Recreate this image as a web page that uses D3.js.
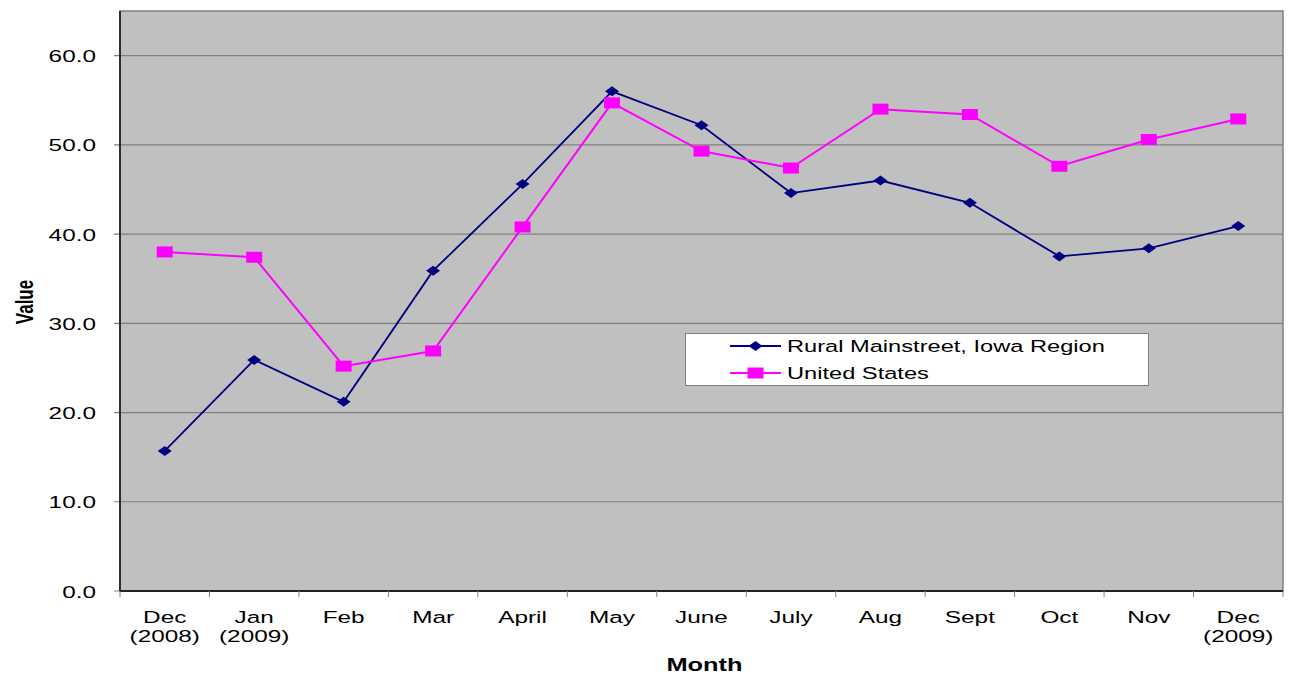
<!DOCTYPE html>
<html>
<head>
<meta charset="utf-8">
<script src="https://cdn.jsdelivr.net/npm/d3@7"></script>
<style>
  body { margin: 0; background: #ffffff; }
  svg { display: block; }
  text { font-family: "Liberation Sans", Arial, sans-serif; fill: #000; }
</style>
</head>
<body>
<div id="chart"></div>
<script>
// data
var months = [["Dec", "(2008)"], ["Jan", "(2009)"], ["Feb"], ["Mar"], ["April"], ["May"],
  ["June"], ["July"], ["Aug"], ["Sept"], ["Oct"], ["Nov"], ["Dec", "(2009)"]];
var rural = [15.7, 25.9, 21.2, 35.9, 45.6, 56.0, 52.2, 44.6, 46.0, 43.5, 37.5, 38.4, 40.9];
var us = [38.0, 37.4, 25.2, 26.9, 40.8, 54.7, 49.3, 47.4, 54.0, 53.4, 47.6, 50.6, 52.9];
var yTicks = [0, 10, 20, 30, 40, 50, 60];
var seriesNames = ["Rural Mainstreet, Iowa Region", "United States"];

var W = 1291, H = 677;
var margin = {left: 120, top: 11, right: 8, bottom: 86};
var width = W - margin.left - margin.right,
    height = H - margin.top - margin.bottom;
var sx = 1.45; // text is drawn wide in the original

var svg = d3.select("#chart").append("svg")
    .attr("width", W)
    .attr("height", H);

var x = d3.scaleBand()
    .domain(d3.range(months.length))
    .range([0, width]);
var y = d3.scaleLinear()
    .domain([0, 65])
    .range([height, 0]);

var g = svg.append("g")
    .attr("transform", "translate(" + margin.left + "," + margin.top + ")");

// plot background
g.append("rect")
    .attr("width", width)
    .attr("height", height)
    .attr("fill", "#c0c0c0")
    .attr("stroke", "#808080")
    .attr("stroke-width", 1.5);

// gridlines + left ticks
g.selectAll(".grid")
    .data(yTicks.filter(function(d) { return d > 0; }))
    .enter().append("line")
    .attr("x1", -6)
    .attr("x2", width)
    .attr("y1", function(d) { return y(d); })
    .attr("y2", function(d) { return y(d); })
    .attr("stroke", "#808080")
    .attr("stroke-width", 1.2);

g.append("line")
    .attr("x1", -6).attr("x2", 0)
    .attr("y1", y(0)).attr("y2", y(0))
    .attr("stroke", "#808080");

// axis lines
g.append("line")
    .attr("x1", 0).attr("x2", 0)
    .attr("y1", 0).attr("y2", height)
    .attr("stroke", "#222").attr("stroke-width", 1.8);
g.append("line")
    .attr("x1", 0).attr("x2", width)
    .attr("y1", height).attr("y2", height)
    .attr("stroke", "#222").attr("stroke-width", 1.8);

// x ticks at category boundaries
g.selectAll(".xtick")
    .data(d3.range(months.length + 1))
    .enter().append("line")
    .attr("x1", function(i) { return i * x.bandwidth(); })
    .attr("x2", function(i) { return i * x.bandwidth(); })
    .attr("y1", height)
    .attr("y2", height + 6)
    .attr("stroke", "#808080");

function wideText(sel, px, py, str, anchor) {
  return sel.append("text")
      .attr("transform", "translate(" + px + "," + py + ") scale(" + sx + ",1)")
      .attr("text-anchor", anchor || "middle")
      .text(str);
}

// y tick labels
yTicks.forEach(function(d) {
  wideText(g, -24, y(d) + 6.5, d3.format(".1f")(d), "end")
      .style("font-size", "16.8px");
});

// x tick labels
months.forEach(function(lines, i) {
  var cx = x(i) + x.bandwidth() / 2;
  lines.forEach(function(s, k) {
    wideText(g, cx, height + 31.5 + k * 19, s)
        .style("font-size", "16.8px");
  });
});

// axis titles
wideText(svg, margin.left + width / 2 + 3, 670.5, "Month")
    .style("font-size", "17.5px")
    .style("font-weight", "bold");

svg.append("text")
    .attr("transform", "translate(33,302) scale(" + sx + ",1) rotate(-90)")
    .attr("text-anchor", "middle")
    .style("font-size", "17px")
    .style("font-weight", "bold")
    .text("Value");

// lines
var line = d3.line()
    .x(function(d, i) { return x(i) + x.bandwidth() / 2; })
    .y(function(d) { return y(d); });

var diamond = "M0,-5L7,0L0,5L-7,0Z";
var square = "M-8,-5.5H8V5.5H-8Z";
var series = [
  {name: seriesNames[0], values: rural, color: "#000080", marker: diamond, lw: 1.8},
  {name: seriesNames[1], values: us, color: "#ff00ff", marker: square, lw: 2}
];

series.forEach(function(s) {
  g.append("path")
      .datum(s.values)
      .attr("d", line)
      .attr("fill", "none")
      .attr("stroke", s.color)
      .attr("stroke-width", s.lw);
});

series.forEach(function(s) {
  g.selectAll(null)
      .data(s.values)
      .enter().append("path")
      .attr("d", s.marker)
      .attr("transform", function(d, i) {
        return "translate(" + (x(i) + x.bandwidth() / 2) + "," + y(d) + ")";
      })
      .attr("fill", s.color);
});

// legend
var legend = svg.append("g");
legend.append("rect")
    .attr("x", 685.5).attr("y", 333.5)
    .attr("width", 463).attr("height", 52)
    .attr("fill", "#fff")
    .attr("stroke", "#808080");

series.forEach(function(s, i) {
  var ly = 346 + i * 27;
  legend.append("line")
      .attr("x1", 730).attr("x2", 781)
      .attr("y1", ly).attr("y2", ly)
      .attr("stroke", s.color)
      .attr("stroke-width", s.lw);
  legend.append("path")
      .attr("d", s.marker)
      .attr("transform", "translate(755.5," + ly + ")")
      .attr("fill", s.color);
  wideText(legend, 787, ly + 6, s.name, "start")
      .style("font-size", "16.3px");
});
</script>
</body>
</html>
